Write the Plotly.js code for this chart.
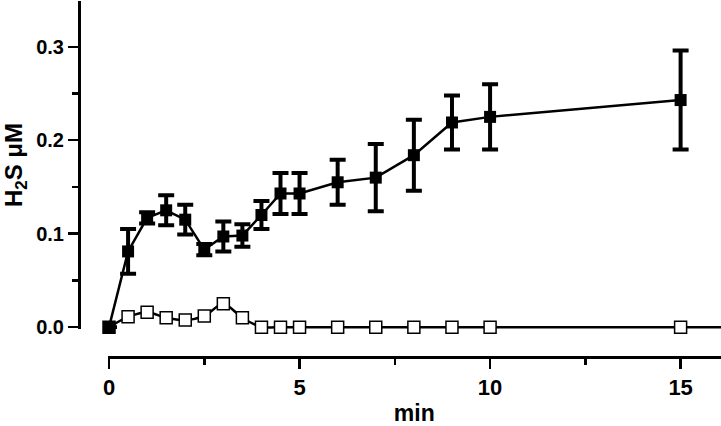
<!DOCTYPE html>
<html>
<head>
<meta charset="utf-8">
<script src="https://cdn.plot.ly/plotly-3.0.1.min.js"></script>
<style>html,body{margin:0;padding:0;background:#fff;}#chart{width:721px;height:426px;}</style>
</head>
<body>
<div id="chart"></div>
<script>
// Time points (min)
const filledX = [0, 0.5, 1, 1.5, 2, 2.5, 3, 3.5, 4, 4.5, 5, 6, 7, 8, 9, 10, 15];
// H2S (µM), filled squares, with SEM
const filledY = [0, 0.081, 0.117, 0.125, 0.115, 0.083, 0.097, 0.098, 0.120, 0.143, 0.143, 0.155, 0.160, 0.184, 0.219, 0.225, 0.243];
const filledErr = [0, 0.024, 0.006, 0.016, 0.016, 0.006, 0.016, 0.012, 0.015, 0.022, 0.022, 0.024, 0.036, 0.038, 0.029, 0.035, 0.053];
// Open squares
const openX = [0, 0.5, 1, 1.5, 2, 2.5, 3, 3.5, 4, 4.5, 5, 6, 7, 8, 9, 10, 15];
const openY = [0, 0.011, 0.016, 0.010, 0.0075, 0.012, 0.025, 0.010, 0, 0, 0, 0, 0, 0, 0, 0, 0];

const xTickVals = [0, 5, 10, 15];
const xTickText = ['0', '5', '10', '15'];
const yTickVals = [0, 0.1, 0.2, 0.3];
const yTickText = ['0.0', '0.1', '0.2', '0.3'];
const xAxisMin = -0.04;
const xAxisMax = 16.06;
const yAxisMin = -0.002;
const yAxisMax = 0.349;

const FONT = 'Liberation Sans, Arial, Helvetica, sans-serif';

const traces = [
  {
    x: [openX[openX.length - 1], xAxisMax],
    y: [openY[openY.length - 1], openY[openY.length - 1]],
    mode: 'lines', line: {color: '#000', width: 2.5},
    cliponaxis: false, hoverinfo: 'skip', showlegend: false
  },
  {
    x: openX, y: openY,
    mode: 'lines+markers',
    line: {color: '#000', width: 2.5, shape: 'spline', smoothing: 0.8},
    marker: {symbol: 'square', size: 12, color: '#fff', line: {color: '#000', width: 1.5}},
    cliponaxis: false, showlegend: false
  },
  {
    x: filledX, y: filledY,
    mode: 'lines+markers',
    line: {color: '#000', width: 2.5},
    marker: {symbol: 'square', size: 12, color: '#000'},
    error_y: {type: 'data', array: filledErr, visible: true, color: '#000', thickness: 4, width: 8},
    cliponaxis: false, showlegend: false
  }
];

const layout = {
  width: 721, height: 426,
  margin: {l: 79, r: 0, t: 1, b: 69},
  paper_bgcolor: '#fff', plot_bgcolor: '#fff',
  font: {family: FONT, color: '#000', weight: 'bold'},
  showlegend: false,
  xaxis: {
    domain: [28.5 / 642, 1],
    anchor: 'free', position: 0,
    range: [xAxisMin, xAxisMax],
    showgrid: false, zeroline: false,
    showline: true, linecolor: '#000', linewidth: 3,
    ticks: 'outside', ticklen: 10, tickwidth: 2.5, tickcolor: '#000',
    tickmode: 'array', tickvals: xTickVals, ticktext: xTickText,
    minor: {dtick: 2.5, tick0: 0, ticks: 'outside', ticklen: 6, tickwidth: 2.5, tickcolor: '#000', showgrid: false},
    tickfont: {family: FONT, size: 22, color: '#000', weight: 'bold'},
    title: {text: 'min', font: {family: FONT, size: 23, color: '#000', weight: 'bold'}, standoff: 20}
  },
  yaxis: {
    domain: [28 / 356, 1],
    anchor: 'free', position: 0,
    range: [yAxisMin, yAxisMax],
    showgrid: false, zeroline: false,
    showline: true, linecolor: '#000', linewidth: 3,
    ticks: 'outside', ticklen: 10, tickwidth: 2.5, tickcolor: '#000',
    tickmode: 'array', tickvals: yTickVals, ticktext: yTickText,
    minor: {dtick: 0.05, tick0: 0, ticks: 'outside', ticklen: 6, tickwidth: 2.5, tickcolor: '#000', showgrid: false},
    tickfont: {family: FONT, size: 20, color: '#000', weight: 'bold'},
    ticklabelstandoff: 0,
    title: {text: 'H<sub>2</sub>S μM', font: {family: FONT, size: 24, color: '#000', weight: 'bold'}, standoff: 12}
  }
};

Plotly.newPlot('chart', traces, layout, {staticPlot: true, displayModeBar: false});
</script>
</body>
</html>
